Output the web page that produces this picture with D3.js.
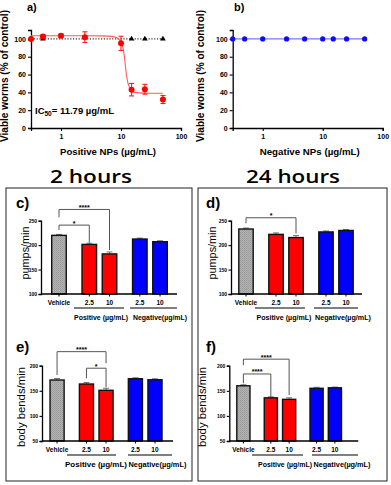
<!DOCTYPE html>
<html><head><meta charset="utf-8">
<script src="https://cdn.jsdelivr.net/npm/d3@7"></script>
<style>body{margin:0;background:#fff}svg{display:block}</style>
</head><body>
<script>
// ---------- data ----------
const concPos = [0.316, 0.5, 1, 2.5, 10, 15, 25, 50];
const viablePos = [100, 102.6, 103.5, 102, 95, 43, 43.5, 32];
const viablePosErr = [0, 2, 2, 6, 8, 7, 5.5, 4.5];
const concCtrl = [0.316, 0.5, 15, 25, 50];
const viableCtrl = [100, 100, 100, 100, 100];
const fitConc = [0.316, 2, 5, 7, 8.5, 9.5, 10, 10.7, 11.3, 11.79, 12.3, 13, 14, 15, 17, 20, 30, 50];
const fitVals = [103.5, 103.5, 103.4, 102.8, 101.3, 98.6, 96.3, 91, 81.5, 71, 60, 51, 45, 42, 40, 39.4, 39, 39];
const concNeg = [0.316, 0.5, 1, 2.5, 5, 10, 15, 25, 50];
const viableNeg = [100, 100, 100, 100, 100, 100, 100, 100, 100];
const logTicks = [1, 10, 100];
const pctTicks = [0, 20, 40, 60, 80, 100];

const barLabels = ["Vehicle", "2.5", "10", "2.5", "10"];
const barGroup = ["veh", "pos", "pos", "neg", "neg"];
const pumps2h = [220, 201.5, 182, 212.5, 207];
const pumps2hErr = [2, 2.5, 4, 2, 2];
const pumps24h = [233, 222, 215.5, 227, 230];
const pumps24hErr = [2, 3, 4, 2, 2];
const bends2h = [171.5, 163.5, 151, 174, 172];
const bends2hErr = [3, 3, 4, 2, 2];
const bends24h = [160, 136, 133, 155, 156];
const bends24hErr = [2, 2, 3, 2, 1.5];
const pumpTicks = [100, 150, 200, 250];
const bendTicks = [50, 100, 150, 200];

// significance brackets: bar indices, y values in data units
const sigC = [{a:0,b:2,lab:"****",top:273,l:257,r:190},{a:0,b:1,lab:"*",top:241,l:231,r:205}];
const sigD = [{a:0,b:2,lab:"*",top:256,l:244.7,r:224}];
const sigE = [{a:0,b:2,lab:"****",top:228,l:181.5,r:205},{a:1,b:2,lab:"*",top:195,l:175,r:157}];
const sigF = [{a:0,b:2,lab:"****",top:213,l:201,r:141.6},{a:0,b:1,lab:"****",top:183.5,l:165,r:138}];

// ---------- drawing ----------
const W = 391, H = 485;
const svg = d3.select("body").append("svg").attr("width", W).attr("height", H)
  .style("font-family", "'Liberation Sans', Arial, sans-serif");

const defs = svg.append("defs");
const pat = defs.append("pattern").attr("id","grayhatch").attr("patternUnits","userSpaceOnUse")
  .attr("width",2).attr("height",2);
pat.append("rect").attr("width",2).attr("height",2).attr("fill","#b2b2b2");
pat.append("rect").attr("width",1).attr("height",1).attr("fill","#9a9a9a");
pat.append("rect").attr("x",1).attr("y",1).attr("width",1).attr("height",1).attr("fill","#a2a2a2");

function styleAxis(g, fs) {
  g.select(".domain").attr("stroke","#000").attr("stroke-width",1.3);
  g.selectAll(".tick line").attr("stroke","#000").attr("stroke-width",1.1);
  g.selectAll(".tick text").attr("fill","#000").attr("font-size",fs).attr("font-weight","bold")
    .attr("font-family","'Liberation Sans', Arial, sans-serif");
}

// ---- dose-response panels ----
function dosePanel(opt) {
  const x = d3.scaleLog().domain([0.316, 100]).range([opt.x0, opt.x0 + 150]);
  const y = d3.scaleLinear().domain([0, 110]).range([128, 30]);
  const gx = svg.append("g").attr("transform", `translate(0,128)`)
    .call(d3.axisBottom(x).tickValues(logTicks).tickFormat(d3.format("d")).tickSize(3).tickPadding(3));
  styleAxis(gx, 7);
  const gy = svg.append("g").attr("transform", `translate(${opt.x0},0)`)
    .call(d3.axisLeft(y).tickValues(pctTicks).tickSize(3).tickPadding(2));
  styleAxis(gy, 7);
  svg.append("text").attr("x", opt.x0 + 77).attr("y", 155).attr("text-anchor","middle")
    .attr("font-size", 9.5).attr("font-weight","bold").attr("textLength", opt.xlw)
    .attr("lengthAdjust","spacingAndGlyphs").text(opt.xlabel);
  svg.append("text").attr("transform", `translate(${opt.ylx},76) rotate(-90)`).attr("text-anchor","middle")
    .attr("font-size", 10).attr("font-weight","bold").attr("textLength", 132)
    .attr("lengthAdjust","spacingAndGlyphs").text("Viable worms (% of control)");
  svg.append("text").attr("x", opt.tx).attr("y", 11).attr("font-size", 11).attr("font-weight","bold").text(opt.title);
  return {x, y};
}

// Panel a
{
  const {x, y} = dosePanel({x0: 31, xlabel: "Positive NPs (µg/mL)", xlw: 96, ylx: 8, tx: 27, title: "a)"});
  svg.append("path").datum(concCtrl.map((c,i)=>[c, viableCtrl[i]]))
    .attr("d", d3.line().x(d=>x(d[0])).y(d=>y(d[1])))
    .attr("fill","none").attr("stroke","#333").attr("stroke-width",1.1).attr("stroke-dasharray","1.2,1.6");
  svg.selectAll(".tri").data(concCtrl).enter().append("path")
    .attr("transform",(d,i)=>`translate(${x(d)},${y(viableCtrl[i])})`)
    .attr("d", d3.symbol(d3.symbolTriangle, 14)).attr("fill","#000");
  svg.append("path").datum(fitConc.map((c,i)=>[c, fitVals[i]]))
    .attr("d", d3.line().x(d=>x(d[0])).y(d=>y(d[1])).curve(d3.curveMonotoneX))
    .attr("fill","none").attr("stroke","#ff5a5a").attr("stroke-width",1.1);
  const eb = svg.append("g").attr("stroke","#ff1a1a").attr("stroke-width",1.1);
  concPos.forEach((c,i)=>{
    const e = viablePosErr[i]; if (!e) return;
    const cx = x(c), y1 = y(viablePos[i]+e), y2 = y(viablePos[i]-e);
    eb.append("line").attr("x1",cx).attr("x2",cx).attr("y1",y1).attr("y2",y2);
    eb.append("line").attr("x1",cx-2.5).attr("x2",cx+2.5).attr("y1",y1).attr("y2",y1);
    eb.append("line").attr("x1",cx-2.5).attr("x2",cx+2.5).attr("y1",y2).attr("y2",y2);
  });
  svg.selectAll(".rdot").data(concPos).enter().append("circle")
    .attr("cx", d=>x(d)).attr("cy",(d,i)=>y(viablePos[i])).attr("r",3).attr("fill","#ff0000");
  const t = svg.append("text").attr("x", 35).attr("y", 114).attr("font-size", 9.5).attr("font-weight","bold");
  t.append("tspan").text("IC");
  t.append("tspan").attr("font-size",6.5).attr("dy",2).text("50");
  t.append("tspan").attr("dy",-2).text("= 11.79 µg/mL");
}

// Panel b
{
  const {x, y} = dosePanel({x0: 232.7, xlabel: "Negative NPs (µg/mL)", xlw: 100, ylx: 203.5, tx: 234, title: "b)"});
  svg.append("path").datum(concNeg.map((c,i)=>[c, viableNeg[i]]))
    .attr("d", d3.line().x(d=>x(d[0])).y(d=>y(d[1])))
    .attr("fill","none").attr("stroke","#6f7bff").attr("stroke-width",1.3);
  svg.selectAll(".bdot").data(concNeg).enter().append("circle")
    .attr("cx", d=>x(d)).attr("cy",(d,i)=>y(viableNeg[i])).attr("r",2.6).attr("fill","#0a0aff");
}

// ---- boxes & titles ----
svg.append("rect").attr("x",6).attr("y",188).attr("width",186).attr("height",293)
  .attr("fill","none").attr("stroke","#222").attr("stroke-width",1);
svg.append("rect").attr("x",198).attr("y",188).attr("width",189).attr("height",293)
  .attr("fill","none").attr("stroke","#222").attr("stroke-width",1);
svg.append("text").attr("x",91).attr("y",183).attr("text-anchor","middle").attr("font-family","'Open Sans', Lato, sans-serif")
  .attr("font-size",17.5).attr("font-weight","600").attr("textLength",82).attr("lengthAdjust","spacingAndGlyphs").text("2 hours");
svg.append("text").attr("x",293).attr("y",183).attr("text-anchor","middle").attr("font-family","'Open Sans', Lato, sans-serif")
  .attr("font-size",17.5).attr("font-weight","600").attr("textLength",94).attr("lengthAdjust","spacingAndGlyphs").text("24 hours");

const colorOf = {veh: "url(#grayhatch)", pos: "#ff0000", neg: "#0000ff"};
const unitPos = [0, 1.5, 2.5, 4, 5];

function barPanel(o) {
  const x = d3.scaleLinear().domain([o.dmin, o.dmax]).range([o.ax, o.axEnd]);
  const y = d3.scaleLinear().domain(o.ydom).range([o.y0, o.y1]);
  const bw = (x(1) - x(0)) * 0.72;
  const gy = svg.append("g").attr("transform",`translate(${o.ax},0)`)
    .call(d3.axisLeft(y).tickValues(o.ticks).tickSize(2.5).tickPadding(1.5));
  styleAxis(gy, 5);
  o.vals.forEach((v,i)=>{
    const cx = x(unitPos[i]);
    const e = o.err[i];
    svg.append("line").attr("x1",cx).attr("x2",cx).attr("y1",y(v)).attr("y2",y(v+e)).attr("stroke","#666").attr("stroke-width",0.9);
    svg.append("line").attr("x1",cx-3).attr("x2",cx+3).attr("y1",y(v+e)).attr("y2",y(v+e)).attr("stroke","#666").attr("stroke-width",0.9);
    svg.append("rect").attr("x",cx-bw/2).attr("y",y(v)).attr("width",bw).attr("height",o.y0-y(v))
      .attr("fill",colorOf[barGroup[i]]).attr("stroke","#111").attr("stroke-width",1.4);
    svg.append("text").attr("x",cx).attr("y",o.y0+10.5).attr("text-anchor","middle")
      .attr("font-size",6.5).attr("font-weight","bold").text(barLabels[i]);
  });
  svg.append("line").attr("x1",o.ax).attr("x2",o.axEnd).attr("y1",o.y0).attr("y2",o.y0).attr("stroke","#000").attr("stroke-width",1.3);
  o.vals.forEach((v,i)=>{
    const cx = x(unitPos[i]);
    svg.append("line").attr("x1",cx).attr("x2",cx).attr("y1",o.y0).attr("y2",o.y0+2.5).attr("stroke","#000").attr("stroke-width",1);
  });
  const gl = o.y0 + 14;
  [[o.posL,o.posR,"Positive (µg/mL)",o.posT,o.posW],[o.negL,o.negR,"Negative(µg/mL)",o.negT,o.negW]].forEach(g=>{
    svg.append("line").attr("x1",g[0]).attr("x2",g[1]).attr("y1",gl).attr("y2",gl).attr("stroke","#000").attr("stroke-width",1.2);
    svg.append("text").attr("x",g[3]).attr("y",gl+11.5).attr("text-anchor","middle").attr("font-size",6.5)
      .attr("font-weight","bold").attr("textLength",g[4]).attr("lengthAdjust","spacingAndGlyphs").text(g[2]);
  });
  svg.append("text").attr("transform",`translate(${o.ylx},${o.yly}) rotate(-90)`).attr("text-anchor","middle")
    .attr("font-size",o.ylfs).attr("textLength",o.ylw).attr("lengthAdjust","spacingAndGlyphs").text(o.ylabel);
  svg.append("text").attr("x",o.tx).attr("y",o.ty).attr("font-size",15).attr("font-weight","bold").text(o.title);
  o.sig.forEach(s=>{
    const xa = x(unitPos[s.a]), xb = x(unitPos[s.b]);
    svg.append("path").attr("d",`M${xa},${y(s.l)}V${y(s.top)}H${xb}V${y(s.r)}`)
      .attr("fill","none").attr("stroke","#555").attr("stroke-width",1);
    svg.append("text").attr("x",(xa+xb)/2).attr("y",y(s.top)+0.5).attr("text-anchor","middle")
      .attr("font-size",7).attr("font-weight","bold").text(s.lab);
  });
}

barPanel({title:"c)", tx:16, ty:208, ax:41, axEnd:177, dmin:-0.89, dmax:5.84, ydom:[100,250], y0:294, y1:220.7,
  ticks:pumpTicks, vals:pumps2h, err:pumps2hErr, sig:sigC, ylabel:"pumps/min", ylx:28.5, yly:253, ylfs:10, ylw:53,
  posL:74, posR:124, posT:101, posW:54, negL:130, negR:177, negT:160, negW:54});
barPanel({title:"d)", tx:206, ty:208, ax:231, axEnd:362, dmin:-0.75, dmax:5.8, ydom:[100,250], y0:294, y1:220.7,
  ticks:pumpTicks, vals:pumps24h, err:pumps24hErr, sig:sigD, ylabel:"pumps/min", ylx:215.5, yly:253, ylfs:10, ylw:53,
  posL:255, posR:305, posT:284, posW:55, negL:314, negR:358, negT:343, negW:56});
barPanel({title:"e)", tx:16, ty:352, ax:42, axEnd:173, dmin:-0.77, dmax:5.92, ydom:[50,200], y0:441, y1:365.7,
  ticks:bendTicks, vals:bends2h, err:bends2hErr, sig:sigE, ylabel:"body bends/min", ylx:25, yly:407, ylfs:11, ylw:80,
  posL:67, posR:116, posT:96, posW:62, negL:128, negR:172, negT:157.5, negW:58});
barPanel({title:"f)", tx:206, ty:352, ax:229.3, axEnd:358.3, dmin:-0.77, dmax:6.28, ydom:[50,200], y0:441, y1:365.7,
  ticks:bendTicks, vals:bends24h, err:bends24hErr, sig:sigF, ylabel:"body bends/min", ylx:206, yly:407, ylfs:11, ylw:80,
  posL:252, posR:303, posT:285, posW:54, negL:312, negR:358, negT:342, negW:57});
</script>
</body></html>
